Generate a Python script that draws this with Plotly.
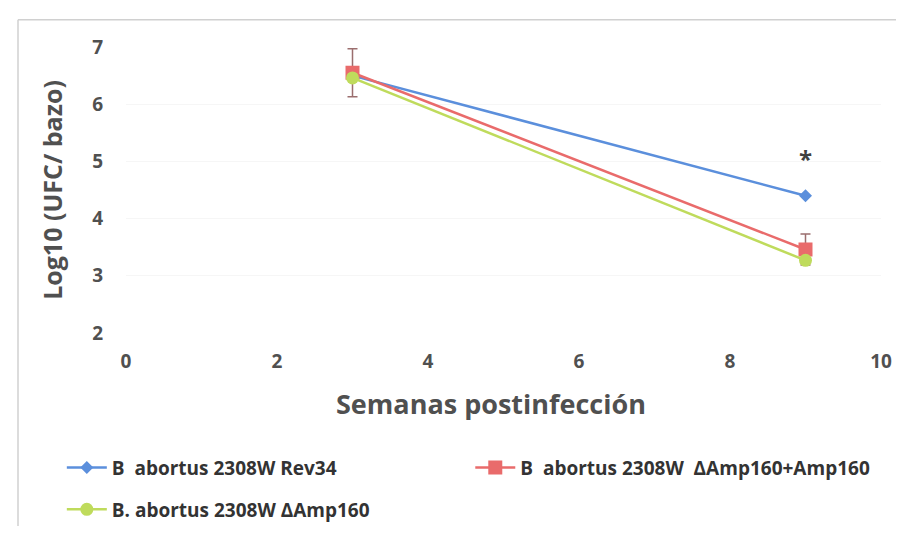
import plotly.graph_objects as go

weeks = [3, 9]
rev34 = [6.50, 4.40]
comp = [6.55, 3.46]
comp_err = [0.42, 0.27]
delta = [6.46, 3.27]
names = ["B  abortus 2308W Rev34",
         "B  abortus 2308W  ΔAmp160+Amp160",
         "B. abortus 2308W ΔAmp160"]
x_ticks = [0, 2, 4, 6, 8, 10]
y_ticks = [2, 3, 4, 5, 6, 7]

BLUE = "#5b8fdc"
RED = "#e96b6b"
GREEN = "#bfdb5c"

fig = go.Figure()
fig.add_trace(go.Scatter(x=weeks, y=rev34, name=names[0], mode="lines+markers",
                         line=dict(color=BLUE, width=2.5),
                         marker=dict(symbol="diamond", size=10, color=BLUE),
                         legend="legend", showlegend=True))
fig.add_trace(go.Scatter(x=weeks, y=comp, name=names[1], mode="lines+markers",
                         line=dict(color=RED, width=2.5),
                         marker=dict(symbol="square", size=14, color=RED),
                         error_y=dict(type="data", array=comp_err, color="#9b6e6e",
                                      thickness=1.5, width=5),
                         legend="legend2", showlegend=True))
fig.add_trace(go.Scatter(x=weeks, y=delta, name=names[2], mode="lines+markers",
                         line=dict(color=GREEN, width=2.5),
                         marker=dict(symbol="circle", size=13, color=GREEN),
                         legend="legend3", showlegend=True))

fig.add_annotation(x=9, y=5.05, text="<b>*</b>", showarrow=False,
                   font=dict(size=24, color="#404040", family="Open Sans"))

# x-axis title (placed as annotation to match its slight left offset)
fig.add_annotation(xref="paper", yref="paper", x=0.484, y=(334 - 407) / 295,
                   text="<b>Semanas postinfección</b>", showarrow=False,
                   xanchor="center", yanchor="middle",
                   font=dict(size=27, color="#505050", family="Open Sans"))

leg_font = dict(family="Open Sans", size=19, color="#333333", weight="bold")
common = dict(font=leg_font, bgcolor="rgba(0,0,0,0)", xanchor="left", yanchor="middle",
              itemwidth=40, visible=True)
fig.update_layout(
    width=904, height=533,
    showlegend=True,
    margin=dict(l=118, r=31, t=39, b=199),
    paper_bgcolor="white", plot_bgcolor="white",
    font=dict(family="Open Sans", color="#595959"),
    legend=dict(x=-0.085, y=(334 - 473) / 295, **common),
    legend2=dict(x=0.456, y=(334 - 473) / 295, **common),
    legend3=dict(x=-0.085, y=(334 - 516) / 295, **common),
    xaxis=dict(range=[0, 10], tickvals=x_ticks, ticktext=[f"<b>{v}</b>" for v in x_ticks],
               showgrid=False, zeroline=False, showline=False, ticks="",
               ticklabelstandoff=15,
               tickfont=dict(size=19, color="#505050")),
    yaxis=dict(range=[2, 7], tickvals=y_ticks, ticktext=[f"<b>{v}</b>" for v in y_ticks],
               showgrid=True, gridcolor="#f6f6f6", zeroline=False, showline=False, ticks="",
               ticklabelstandoff=22,
               tickfont=dict(size=19, color="#505050"),
               title=dict(text="<b>Log10 (UFC/ bazo)</b>", font=dict(size=25, color="#505050"),
                          standoff=22)),
)

# outer chart border (left and top edges)
fig.add_shape(type="line", xref="paper", yref="paper",
              x0=(10 - 118) / 755, x1=(10 - 118) / 755,
              y0=(334 - 533) / 295, y1=(334 - 11) / 295,
              line=dict(color="#d0d0d0", width=1.5))
fig.add_shape(type="line", xref="paper", yref="paper",
              x0=(10 - 118) / 755, x1=(904 - 118) / 755,
              y0=(334 - 11) / 295, y1=(334 - 11) / 295,
              line=dict(color="#d0d0d0", width=1.5))

fig.write_html("out.html")
